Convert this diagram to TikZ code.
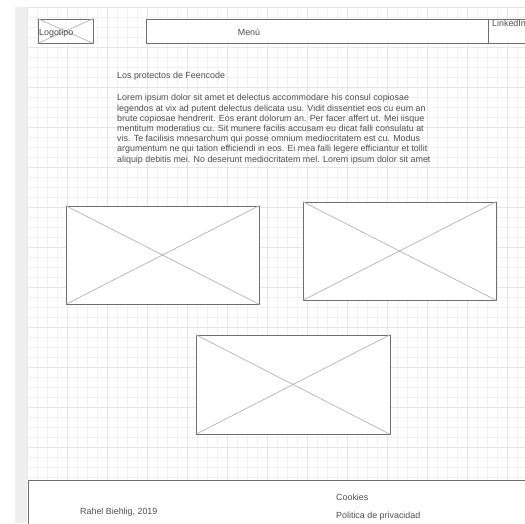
\documentclass[tikz,border=0pt]{standalone}
\usepackage{fontspec}
\setmainfont{Liberation Sans}
\definecolor{gridminor}{HTML}{F2F2F2}
\definecolor{gridmajor}{HTML}{E6E6E6}
\definecolor{sidebar}{HTML}{EEEEEE}
\definecolor{boxline}{HTML}{6E6E6E}
\definecolor{crossline}{HTML}{B4B4B4}
\definecolor{txtgray}{HTML}{505050}
\tikzset{
  frame/.style={draw=boxline,fill=white,line width=0.9pt,inner sep=0pt},
  cross/.style={draw=crossline,line width=0.7pt},
  wftext/.style={text=txtgray,font=\fontsize{8.9}{10.2}\selectfont,inner sep=0pt},
}
\begin{document}
\begin{tikzpicture}[x=1pt,y=-1pt]
  \useasboundingbox (0,0) rectangle (525,523);
  \clip (0,0) rectangle (525,523);
  \fill[white] (0,0) rectangle (525,523);
  \fill[sidebar] (15,7) rectangle (27,523);
  % grid
  \foreach \gx in {0,10,...,490}
    \draw[gridminor,line width=0.4pt] (27+\gx,7) -- (27+\gx,480);
  \foreach \gy in {0,10,...,470}
    \draw[gridminor,line width=0.4pt] (27,7+\gy) -- (525,7+\gy);
  \foreach \gx in {0,40,...,480}
    \draw[gridmajor,line width=0.4pt] (27+\gx,7) -- (27+\gx,480);
  \foreach \gy in {0,40,...,440}
    \draw[gridmajor,line width=0.4pt] (27,7+\gy) -- (525,7+\gy);
  % header
  \node[frame,minimum width=55,minimum height=24] (logo) at (65.5,31) {};
  \draw[cross] (logo.north west) -- (logo.south east);
  \draw[cross] (logo.south west) -- (logo.north east);
  \node[wftext,anchor=base west] (logotext) at (39,35) {Logotipo};
  \node[frame,minimum width=342,minimum height=24] (menu) at (317,31) {};
  \node[wftext,anchor=base] (menutext) at (249,35) {Menú};
  \node[frame,minimum width=72,minimum height=24] (linkedin) at (524,31) {};
  \node[wftext,anchor=base west] (linkedintext) at (492,26) {LinkedIn};
  % text
  \node[wftext,anchor=base west] (title) at (117,78) {Los protectos de Feencode};
  \node[wftext,anchor=base west,align=left] (body) at (117,162) {%
    Lorem ipsum dolor sit amet et delectus accommodare his consul copiosae\\
    legendos at vix ad putent delectus delicata usu. Vidit dissentiet eos cu eum an\\
    brute copiosae hendrerit. Eos erant dolorum an. Per facer affert ut. Mei iisque\\
    mentitum moderatius cu. Sit munere facilis accusam eu dicat falli consulatu at\\
    vis. Te facilisis mnesarchum qui posse omnium mediocritatem est cu. Modus\\
    argumentum ne qui tation efficiendi in eos. Ei mea falli legere efficiantur et tollit\\
    aliquip debitis mei. No deserunt mediocritatem mel. Lorem ipsum dolor sit amet};
  % images
  \node[frame,minimum width=193,minimum height=98] (imga) at (162.5,255) {};
  \node[frame,minimum width=193,minimum height=98] (imgb) at (399.5,251) {};
  \node[frame,minimum width=194,minimum height=99] (imgc) at (293,384.5) {};
  \foreach \img in {imga,imgb,imgc}{
    \draw[cross] (\img.north west) -- (\img.south east);
    \draw[cross] (\img.south west) -- (\img.north east);
  }
  % footer
  \node[frame,minimum width=532,minimum height=80] (footer) at (294,520) {};
  \node[wftext,anchor=base west] (author) at (80,514) {Rahel Biehlig, 2019};
  \node[wftext,anchor=base west] (cookies) at (336,500) {Cookies};
  \node[wftext,anchor=base west] (privacy) at (336,518) {Politica de privacidad};
\end{tikzpicture}
\end{document}
